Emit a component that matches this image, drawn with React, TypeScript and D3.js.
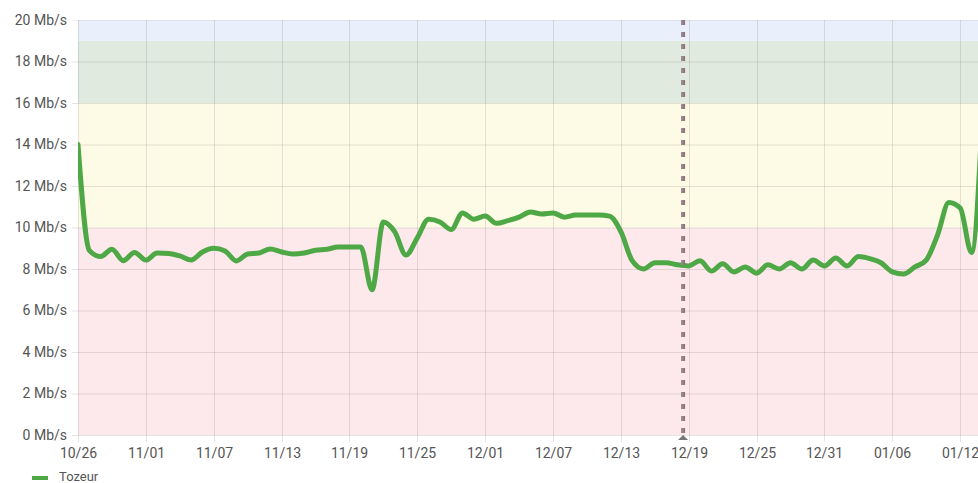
import React from "react";
import * as d3 from "d3";

// daily throughput, starting 2023-10-26
const startDate = new Date(2023, 9, 26);
const tozeur = [
  14.0, 8.9, 8.6, 8.95, 8.4, 8.8, 8.43, 8.77, 8.75, 8.63,
  8.43, 8.82, 9.0, 8.87, 8.39, 8.72, 8.77, 8.96, 8.82, 8.72,
  8.77, 8.9, 8.95, 9.06, 9.06, 9.06, 7.0, 10.27, 9.8, 8.67,
  9.5, 10.4, 10.27, 9.9, 10.7, 10.4, 10.55, 10.2, 10.33, 10.5,
  10.75, 10.65, 10.7, 10.5, 10.6, 10.6, 10.6, 10.55, 9.8, 8.4,
  8.0, 8.3, 8.3, 8.2, 8.15, 8.4, 7.9, 8.25, 7.86, 8.1,
  7.8, 8.2, 8.0, 8.3, 8.0, 8.43, 8.15, 8.53, 8.15, 8.6,
  8.5, 8.3, 7.86, 7.76, 8.1, 8.43, 9.64, 11.2, 10.94, 8.8,
  15.8,
];
const xTickLabels = [
  "10/26", "11/01", "11/07", "11/13", "11/19", "11/25", "12/01",
  "12/07", "12/13", "12/19", "12/25", "12/31", "01/06", "01/12",
];
const yTicks = [0, 2, 4, 6, 8, 10, 12, 14, 16, 18, 20];
// threshold bands [from, to, colour]
const bandLimits = [0, 10, 16, 19, 20];
const bandColors = ["#fde9ec", "#fdfbe5", "#e0eadf", "#e9f0fc"];
const markerDay = 53.5; // dashed marker, mid 12/18

const W = 978;
const H = 483;
const left = 78;
const top = 20;
const bottom = 435;
const pxPerDay = 11.31;

const dayDate = (i: number) => d3.timeHour.offset(startDate, Math.round(i * 24));

const parseTick = (s: string) => {
  const [m, d] = s.split("/").map(Number);
  return new Date(m >= 10 ? 2023 : 2024, m - 1, d);
};

export default function App() {
  const lastDay = tozeur.length - 1;
  const x = d3
    .scaleTime()
    .domain([startDate, dayDate(lastDay)])
    .range([left, left + lastDay * pxPerDay]);
  const y = d3.scaleLinear().domain([0, 20]).range([bottom, top]);

  const line = d3
    .line<number>()
    .x((_, i) => x(dayDate(i)))
    .y((d) => y(d))
    .curve(d3.curveMonotoneX);

  const mx = x(dayDate(markerDay));
  const font = "Roboto, 'Noto Sans', Arial, sans-serif";

  return (
    <svg
      width={W}
      height={H}
      style={{ position: "absolute", left: 0, top: 0, background: "#fff" }}
      fontFamily={font}
    >
      <defs>
        <clipPath id="plot">
          <rect x={left} y={top - 2} width={W - left} height={bottom - top + 4} />
        </clipPath>
      </defs>

      {bandColors.map((c, i) => (
        <rect
          key={c}
          x={left}
          width={W - left}
          y={y(bandLimits[i + 1])}
          height={y(bandLimits[i]) - y(bandLimits[i + 1])}
          fill={c}
        />
      ))}

      {yTicks.map((t) => (
        <g key={t}>
          <line
            x1={left - 6}
            x2={W}
            y1={y(t) + 0.5}
            y2={y(t) + 0.5}
            stroke="#000"
            strokeOpacity={t === 20 ? 0.06 : 0.1}
          />
          <text
            x={67}
            y={y(t)}
            dy="0.35em"
            textAnchor="end"
            fontSize={14}
            fill="#555"
          >
            {t} Mb/s
          </text>
        </g>
      ))}

      {xTickLabels.map((s) => {
        const xx = Math.round(x(parseTick(s))) + 0.5;
        return (
          <g key={s}>
            <line
              x1={xx}
              x2={xx}
              y1={top}
              y2={bottom + 7}
              stroke="#000"
              strokeOpacity={0.1}
            />
            <text x={xx} y={458} textAnchor="middle" fontSize={14} fill="#555">
              {s}
            </text>
          </g>
        );
      })}

      <g clipPath="url(#plot)">
        <path
          d={line(tozeur) || ""}
          fill="none"
          stroke="#4fa846"
          strokeWidth={5}
          strokeLinejoin="round"
          strokeLinecap="round"
        />
      </g>

      <line
        x1={mx - 1}
        x2={mx - 1}
        y1={top}
        y2={bottom - 2}
        stroke="#8a8a96"
        strokeWidth={2}
        strokeDasharray="5 7"
      />
      <line
        x1={mx + 1}
        x2={mx + 1}
        y1={top}
        y2={bottom - 2}
        stroke="#9c6f6f"
        strokeWidth={2}
        strokeDasharray="5 7"
      />
      <path
        d={`M${mx - 5},${bottom + 5} L${mx},${bottom} L${mx + 5},${bottom + 5} Z`}
        fill="#777"
      />

      <line x1={32} x2={48} y1={478} y2={478} stroke="#4fa846" strokeWidth={4} />
      <text x={59} y={481} fontSize={13} fill="#555">
        Tozeur
      </text>
    </svg>
  );
}
